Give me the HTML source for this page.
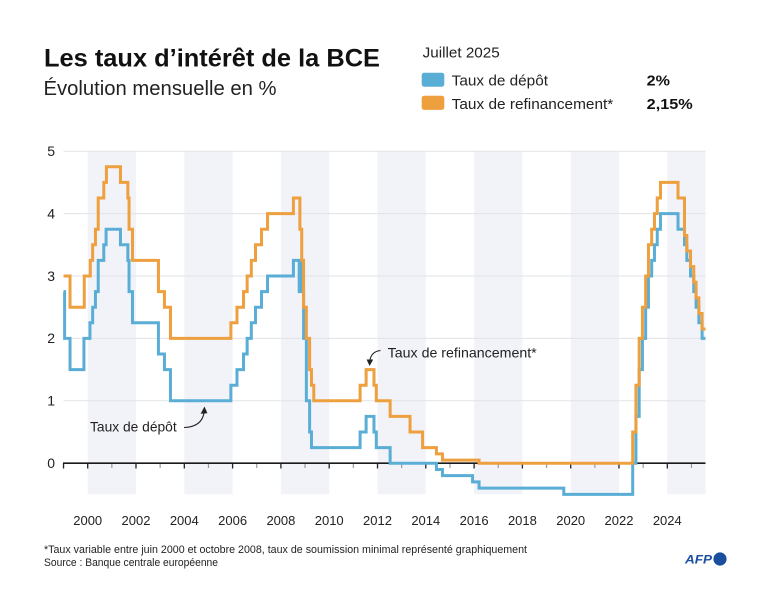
<!DOCTYPE html>
<html>
<head>
<meta charset="utf-8">
<style>
  html,body{margin:0;padding:0;background:#fff;}
  svg{display:block;}
  text{font-family:"Liberation Sans", sans-serif;}
</style>
</head>
<body>
<svg width="768" height="614" viewBox="0 0 768 614" xmlns="http://www.w3.org/2000/svg">
  <rect x="0" y="0" width="768" height="614" fill="#ffffff"/>

  <!-- Title -->
  <text x="44" y="66.5" font-size="25" font-weight="bold" fill="#111" textLength="336" lengthAdjust="spacingAndGlyphs">Les taux d’intérêt de la BCE</text>
  <text x="43.5" y="95" font-size="20" fill="#222" textLength="233" lengthAdjust="spacingAndGlyphs">Évolution mensuelle en %</text>

  <!-- Legend -->
  <text x="422.7" y="57.3" font-size="15" fill="#222" textLength="77" lengthAdjust="spacingAndGlyphs">Juillet 2025</text>
  <rect x="421.7" y="72.7" width="22.6" height="14" rx="2.5" fill="#5aaed6"/>
  <rect x="421.7" y="95.7" width="22.6" height="14.2" rx="2.5" fill="#ee9f3e"/>
  <text x="451.7" y="85.7" font-size="15" fill="#222" textLength="96.3" lengthAdjust="spacingAndGlyphs">Taux de dépôt</text>
  <text x="451.7" y="109" font-size="15" fill="#222" textLength="161.6" lengthAdjust="spacingAndGlyphs">Taux de refinancement*</text>
  <text x="646.7" y="85.7" font-size="15" font-weight="bold" fill="#111" textLength="23.3" lengthAdjust="spacingAndGlyphs">2%</text>
  <text x="646.7" y="109" font-size="15" font-weight="bold" fill="#111" textLength="46" lengthAdjust="spacingAndGlyphs">2,15%</text>

  <!-- Shaded bands -->
  <g fill="#f1f3f8">
    <rect x="87.7" y="151.2" width="48.3" height="343"/>
    <rect x="184.3" y="151.2" width="48.3" height="343"/>
    <rect x="280.9" y="151.2" width="48.3" height="343"/>
    <rect x="377.5" y="151.2" width="48.3" height="343"/>
    <rect x="474.1" y="151.2" width="48.3" height="343"/>
    <rect x="570.7" y="151.2" width="48.3" height="343"/>
    <rect x="667.3" y="151.2" width="38.2" height="343"/>
  </g>

  <!-- Gridlines -->
  <g stroke="#e2e3e6" stroke-width="1">
    <line x1="63.5" y1="151.2" x2="705.5" y2="151.2"/>
    <line x1="63.5" y1="213.6" x2="705.5" y2="213.6"/>
    <line x1="63.5" y1="276" x2="705.5" y2="276"/>
    <line x1="63.5" y1="338.4" x2="705.5" y2="338.4"/>
    <line x1="63.5" y1="400.8" x2="705.5" y2="400.8"/>
  </g>

  <!-- Y labels -->
  <g font-size="14" fill="#222" text-anchor="end">
    <text x="55" y="156">5</text>
    <text x="55" y="218.4">4</text>
    <text x="55" y="280.8">3</text>
    <text x="55" y="343.2">2</text>
    <text x="55" y="405.6">1</text>
    <text x="55" y="468">0</text>
  </g>

  <!-- Ticks -->
  <g stroke="#222" stroke-width="1.3">
    <line x1="63.55" y1="463" x2="63.55" y2="468.5"/>
    <line x1="87.7" y1="463" x2="87.7" y2="468.5"/>
    <line x1="136" y1="463" x2="136" y2="468.5"/>
    <line x1="184.3" y1="463" x2="184.3" y2="468.5"/>
    <line x1="232.6" y1="463" x2="232.6" y2="468.5"/>
    <line x1="280.9" y1="463" x2="280.9" y2="468.5"/>
    <line x1="329.2" y1="463" x2="329.2" y2="468.5"/>
    <line x1="377.5" y1="463" x2="377.5" y2="468.5"/>
    <line x1="425.8" y1="463" x2="425.8" y2="468.5"/>
    <line x1="474.1" y1="463" x2="474.1" y2="468.5"/>
    <line x1="522.4" y1="463" x2="522.4" y2="468.5"/>
    <line x1="570.7" y1="463" x2="570.7" y2="468.5"/>
    <line x1="619" y1="463" x2="619" y2="468.5"/>
    <line x1="667.3" y1="463" x2="667.3" y2="468.5"/>
  </g>
  <g stroke="#9a9a9a" stroke-width="1.2">
    <line x1="111.85" y1="463" x2="111.85" y2="468"/>
    <line x1="160.15" y1="463" x2="160.15" y2="468"/>
    <line x1="208.45" y1="463" x2="208.45" y2="468"/>
    <line x1="256.75" y1="463" x2="256.75" y2="468"/>
    <line x1="305.05" y1="463" x2="305.05" y2="468"/>
    <line x1="353.35" y1="463" x2="353.35" y2="468"/>
    <line x1="401.65" y1="463" x2="401.65" y2="468"/>
    <line x1="449.95" y1="463" x2="449.95" y2="468"/>
    <line x1="498.25" y1="463" x2="498.25" y2="468"/>
    <line x1="546.55" y1="463" x2="546.55" y2="468"/>
    <line x1="594.85" y1="463" x2="594.85" y2="468"/>
    <line x1="643.15" y1="463" x2="643.15" y2="468"/>
    <line x1="691.45" y1="463" x2="691.45" y2="468"/>
  </g>
  <line x1="63" y1="463.2" x2="705.5" y2="463.2" stroke="#1a1a1a" stroke-width="1.6"/>

  <!-- X labels -->
  <g font-size="13" fill="#222" text-anchor="middle">
    <text x="87.7" y="525">2000</text>
    <text x="136" y="525">2002</text>
    <text x="184.3" y="525">2004</text>
    <text x="232.6" y="525">2006</text>
    <text x="280.9" y="525">2008</text>
    <text x="329.2" y="525">2010</text>
    <text x="377.5" y="525">2012</text>
    <text x="425.8" y="525">2014</text>
    <text x="474.1" y="525">2016</text>
    <text x="522.4" y="525">2018</text>
    <text x="570.7" y="525">2020</text>
    <text x="619" y="525">2022</text>
    <text x="667.3" y="525">2024</text>
  </g>

  <!-- Deposit rate (blue) -->
  <path fill="none" stroke="#5aaed6" stroke-width="3" stroke-linejoin="miter" d="M63.55,291.6 H64.6 V338.4 H70.03 V369.6 H83.93 V338.4 H89.95 V322.8 H92.66 V307.2 H95.44 V291.6 H98.22 V260.4 H103.78 V244.8 H106.09 V229.2 H120.45 V244.8 H127.86 V260.4 H129.05 V291.6 H132.49 V322.8 H158.43 V354 H164.45 V369.6 H170.47 V400.8 H230.88 V385.2 H236.97 V369.6 H243.52 V354 H247.16 V338.4 H251.32 V322.8 H255.49 V307.2 H261.51 V291.6 H267.53 V276 H293.4 V260.4 H299.2 V291.6 H300.2 V260.4 H301.74 V291.6 H303.59 V338.4 H306.37 V400.8 H309.62 V432 H311.47 V447.6 H360.1 V432 H366.12 V416.4 H373.99 V432 H376.31 V447.6 H390.14 V463.2 H436.45 V469.44 H442.47 V475.68 H472.58 V481.92 H479.06 V488.16 H563.75 V494.4 H632.7 V463.2 H635.94 V416.4 H639.18 V369.6 H642.42 V338.4 H645.66 V307.2 H648.44 V276 H651.68 V260.4 H654.46 V244.8 H657.24 V229.2 H660.48 V213.6 H678.02 V229.2 H684.5 V244.8 H686.82 V260.4 H690.52 V276 H693.77 V291.6 H696.08 V307.2 H698.86 V322.8 H702.1 V338.4 H705.5"/>

  <!-- Refinancing rate (orange) -->
  <path fill="none" stroke="#ee9f3e" stroke-width="3" stroke-linejoin="miter" d="M63.55,276 H70.03 V307.2 H84.26 V276 H90.28 V260.4 H92.66 V244.8 H95.44 V229.2 H98.22 V198 H103.78 V182.4 H106.42 V166.8 H120.45 V182.4 H127.86 V198 H129.05 V229.2 H132.49 V260.4 H158.43 V291.6 H164.45 V307.2 H170.47 V338.4 H230.88 V322.8 H236.97 V307.2 H243.52 V291.6 H247.16 V276 H251.32 V260.4 H255.49 V244.8 H261.51 V229.2 H267.53 V213.6 H293.4 V198 H299.89 V229.2 H301.74 V260.4 H303.59 V307.2 H306.37 V338.4 H309.62 V369.6 H311.47 V385.2 H313.78 V400.8 H360.1 V385.2 H366.12 V369.6 H373.99 V385.2 H376.31 V400.8 H390.14 V416.4 H410.05 V432 H422.56 V447.6 H436.45 V453.84 H442.47 V460.08 H479.06 V463.2 H632.7 V432 H635.94 V385.2 H639.18 V338.4 H642.42 V307.2 H645.66 V276 H648.44 V244.8 H651.68 V229.2 H654.46 V213.6 H657.24 V198 H660.48 V182.4 H678.02 V198 H684.5 V235.44 H686.82 V251.04 H690.52 V266.64 H693.77 V282.24 H696.08 V297.84 H698.86 V313.44 H702.1 V329.04 H705.5"/>

  <!-- Annotations -->
  <text x="387.7" y="357.3" font-size="14" fill="#222" textLength="149" lengthAdjust="spacingAndGlyphs">Taux de refinancement*</text>
  <path d="M380.5,350.5 Q371.5,351.5 370,360" fill="none" stroke="#222" stroke-width="1.1"/>
  <polygon points="366.6,359.5 373.2,359.5 369.6,366" fill="#222"/>

  <text x="90" y="431.7" font-size="14" fill="#222" textLength="86.7" lengthAdjust="spacingAndGlyphs">Taux de dépôt</text>
  <path d="M184,427.5 Q201.5,427 204,413" fill="none" stroke="#222" stroke-width="1.1"/>
  <polygon points="200.6,413.8 207.4,413.2 204.5,406.5" fill="#222"/>

  <!-- Footer -->
  <text x="44" y="553" font-size="11" fill="#222" textLength="483" lengthAdjust="spacingAndGlyphs">*Taux variable entre juin 2000 et octobre 2008, taux de soumission minimal représenté graphiquement</text>
  <text x="44" y="566" font-size="11" fill="#222" textLength="174" lengthAdjust="spacingAndGlyphs">Source : Banque centrale européenne</text>

  <!-- AFP logo -->
  <text x="685" y="563.5" font-size="12" font-weight="bold" font-style="italic" fill="#1a4fa0" textLength="27" lengthAdjust="spacingAndGlyphs">AFP</text>
  <circle cx="720" cy="559" r="6.6" fill="#1a4fa0"/>
</svg>
</body>
</html>
